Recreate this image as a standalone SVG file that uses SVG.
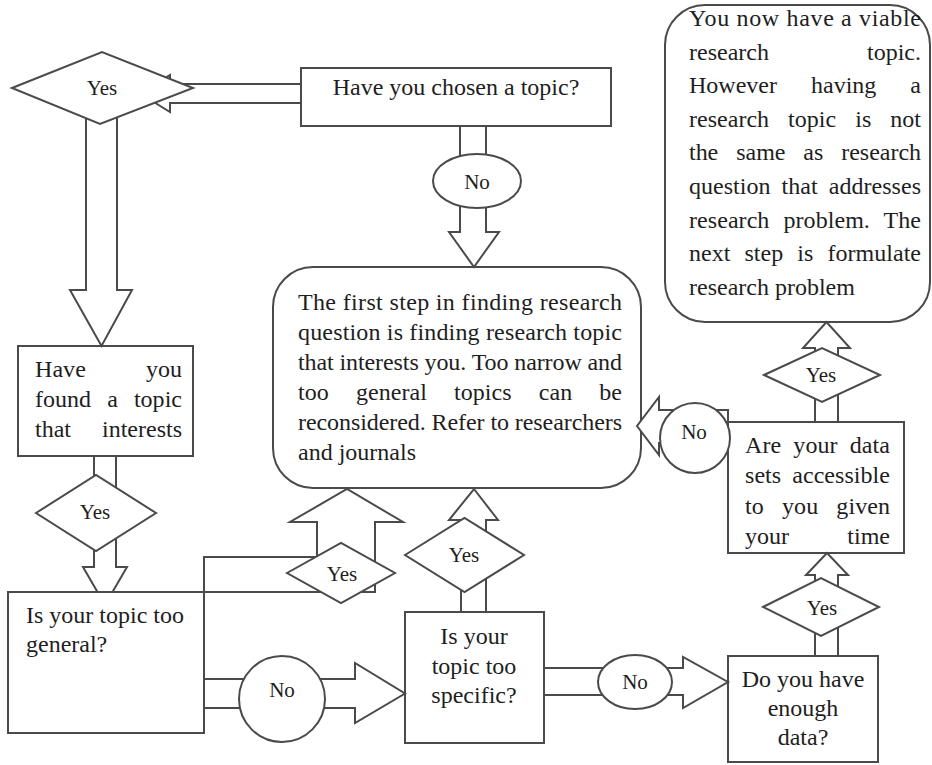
<svg xmlns="http://www.w3.org/2000/svg" width="932" height="765" viewBox="0 0 932 765">
<style>
.box{fill:#fff;stroke:#4a4a4a;stroke-width:2}
.arr{fill:#fff;stroke:#4a4a4a;stroke-width:2;stroke-linejoin:miter}
.t{font-family:"Liberation Serif","Times New Roman",serif;font-size:24px;fill:#1e1e1e}
.c{text-anchor:middle}
.lbl{font-family:"Liberation Serif","Times New Roman",serif;font-size:21px;fill:#1e1e1e;text-anchor:middle}
</style>
<rect width="932" height="765" fill="#fff"/>
<g id="nodes">
  <g id="n-chosen">
    <rect class="box" x="301" y="68" width="310" height="58"/>
    <text class="t c" x="456" y="95">Have you chosen a topic?</text>
  </g>
  <g id="n-viable">
    <rect class="box" x="665" y="5" width="265" height="317" rx="40"/>
    <text class="t" x="689" y="26" textLength="232" lengthAdjust="spacing">You now have a viable</text>
    <text class="t" x="689" y="59.6" word-spacing="92" textLength="232" lengthAdjust="spacing">research topic.</text>
    <text class="t" x="689" y="93.2" word-spacing="28" textLength="232" lengthAdjust="spacing">However having a</text>
    <text class="t" x="689" y="126.8" word-spacing="13" textLength="232" lengthAdjust="spacing">research topic is not</text>
    <text class="t" x="689" y="160.4" word-spacing="12" textLength="232" lengthAdjust="spacing">the same as research</text>
    <text class="t" x="689" y="194" word-spacing="5" textLength="232" lengthAdjust="spacing">question that addresses</text>
    <text class="t" x="689" y="227.6" word-spacing="8" textLength="232" lengthAdjust="spacing">research problem. The</text>
    <text class="t" x="689" y="261.2" word-spacing="8" textLength="232" lengthAdjust="spacing">next step is formulate</text>
    <text class="t" x="689" y="295">research problem</text>
  </g>
  <g id="n-firststep">
    <rect class="box" x="273" y="267" width="368" height="221" rx="40"/>
    <text class="t" x="298" y="310" textLength="324" lengthAdjust="spacing">The first step in finding research</text>
    <text class="t" x="298" y="340" textLength="324" lengthAdjust="spacing">question is finding research topic</text>
    <text class="t" x="298" y="370" textLength="324" lengthAdjust="spacing">that interests you. Too narrow and</text>
    <text class="t" x="298" y="400" word-spacing="21" textLength="324" lengthAdjust="spacing">too general topics can be</text>
    <text class="t" x="298" y="430" textLength="324" lengthAdjust="spacing">reconsidered. Refer to researchers</text>
    <text class="t" x="298" y="460">and journals</text>
  </g>
  <g id="n-found">
    <rect class="box" x="18" y="346" width="175" height="110"/>
    <text class="t" x="35" y="377" word-spacing="54" textLength="147" lengthAdjust="spacing">Have you</text>
    <text class="t" x="35" y="407" word-spacing="10" textLength="147" lengthAdjust="spacing">found a topic</text>
    <text class="t" x="35" y="437" word-spacing="25" textLength="147" lengthAdjust="spacing">that interests</text>
  </g>
  <g id="n-general">
    <rect class="box" x="8" y="592" width="196" height="141"/>
    <text class="t" x="26" y="623">Is your topic too</text>
    <text class="t" x="26" y="652">general?</text>
  </g>
  <g id="n-specific">
    <rect class="box" x="405" y="612" width="139" height="131"/>
    <text class="t c" x="474" y="644">Is your</text>
    <text class="t c" x="474" y="674">topic too</text>
    <text class="t c" x="474" y="703">specific?</text>
  </g>
  <g id="n-enough">
    <rect class="box" x="728" y="656" width="150" height="106"/>
    <text class="t c" x="803" y="687">Do you have</text>
    <text class="t c" x="803" y="716">enough</text>
    <text class="t c" x="803" y="745">data?</text>
  </g>
  <g id="n-access">
    <rect class="box" x="728" y="422" width="176" height="131"/>
    <text class="t" x="745" y="453" word-spacing="6" textLength="145" lengthAdjust="spacing">Are your data</text>
    <text class="t" x="745" y="483" word-spacing="5" textLength="145" lengthAdjust="spacing">sets accessible</text>
    <text class="t" x="745" y="514" word-spacing="12" textLength="145" lengthAdjust="spacing">to you given</text>
    <text class="t" x="745" y="544" word-spacing="52" textLength="145" lengthAdjust="spacing">your time</text>
  </g>
</g>
<g id="connectors">
  <polygon class="arr" points="301,84 170,84 170,75 140,93.5 170,112 170,103 301,103"/>
  <polygon class="arr" points="86,110 86,290 70,290 101.5,346 132,290 117,290 117,110"/>
  <polygon class="arr" points="94,456 94,567 83,567 97.5,592 112.5,592 127,567 116,567 116,456"/>
  <polygon class="arr" points="460,126 460,232 449,232 474,267 499,232 486,232 486,126"/>
  <polygon class="arr" points="204,592 375,592 375,522 403,522 347,489 290,522 317,522 317,557 204,557"/>
  <polygon class="arr" points="204,679 355,679 355,663 405,693.5 355,723 355,708 204,708"/>
  <polygon class="arr" points="461,612 461,520 449,520 474,489 498,520 486,520 486,612"/>
  <polygon class="arr" points="544,668 683,668 683,657 728,682 683,708 683,695 544,695"/>
  <polygon class="arr" points="815,656 815,575 806,575 827,553 848,575 838,575 838,656"/>
  <polygon class="arr" points="815,422 815,348 803,348 826.5,322 850,348 838,348 838,422"/>
  <polygon class="arr" points="728,410 659,410 659,397 637,426 659,455 659,443 728,443"/>
</g>
<g id="labels">
  <g id="l-yes1"><polygon class="box" points="12,88 102,52 193,88 100,124"/><text class="lbl" x="102" y="95">Yes</text></g>
  <g id="l-no1"><ellipse class="box" cx="477" cy="181" rx="44" ry="27"/><text class="lbl" x="477" y="189">No</text></g>
  <g id="l-yes2"><polygon class="box" points="36,513 96,475 156,513 96,551"/><text class="lbl" x="95" y="519">Yes</text></g>
  <g id="l-yes3"><polygon class="box" points="287,573 341,543 395,573 341,603"/><text class="lbl" x="342" y="581">Yes</text></g>
  <g id="l-yes4"><polygon class="box" points="405,555 464.5,518 524,555 464.5,592"/><text class="lbl" x="464" y="562">Yes</text></g>
  <g id="l-no2"><circle class="box" cx="282" cy="699" r="43"/><text class="lbl" x="282" y="697">No</text></g>
  <g id="l-no3"><ellipse class="box" cx="635" cy="682" rx="37" ry="27"/><text class="lbl" x="635" y="689">No</text></g>
  <g id="l-yes5"><polygon class="box" points="763,607 821,578 879,607 821,636"/><text class="lbl" x="822" y="615">Yes</text></g>
  <g id="l-yes6"><polygon class="box" points="764,375 822,348 880,375 822,402"/><text class="lbl" x="821" y="382">Yes</text></g>
  <g id="l-no4"><circle class="box" cx="695" cy="438" r="35"/><text class="lbl" x="694" y="439">No</text></g>
</g>
</svg>
